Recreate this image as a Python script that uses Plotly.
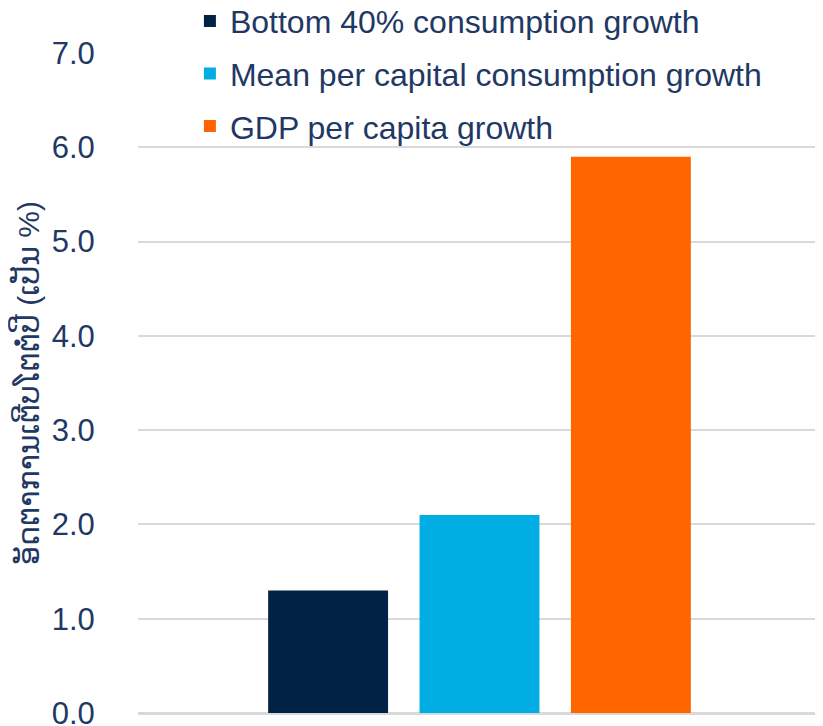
import plotly.graph_objects as go

categories = [""]
series_names = ["Bottom 40% consumption growth",
                "Mean per capital consumption growth",
                "GDP per capita growth"]
series_values = [[1.3], [2.1], [5.9]]
series_colors = ["#002245", "#00AEE4", "#FF6600"]
y_ticks = [0, 1, 2, 3, 4, 5, 6, 7]
y_tick_labels = ["0.0", "1.0", "2.0", "3.0", "4.0", "5.0", "6.0", "7.0"]
y_title = "ອັດຕາການເຕີບໂຕຕໍ່ປີ (ເປັນ %)"

text_color = "#1F3864"
font_family = "Arial, 'Liberation Sans', 'DejaVu Sans', sans-serif"

fig = go.Figure()
for i, (name, vals, col) in enumerate(zip(series_names, series_values, series_colors)):
    fig.add_trace(go.Bar(x=categories, y=vals, name=name, marker_color=col,
                         marker_line_width=0, legendgroup=f"g{i}"))

fig.update_layout(
    width=823, height=726,
    margin=dict(l=130, r=10, t=45, b=21, autoexpand=False),
    paper_bgcolor="white", plot_bgcolor="white",
    font=dict(family=font_family, color=text_color, size=31),
    barmode="group", bargap=0.335, bargroupgap=0.208,
    showlegend=True,
    legend=dict(x=0.076, xanchor="left", y=1.09, yanchor="top",
                bgcolor="rgba(0,0,0,0)", font=dict(size=32, color=text_color),
                tracegroupgap=8, traceorder="grouped"),
    xaxis=dict(showticklabels=False, showgrid=False, zeroline=False, showline=False),
    yaxis=dict(range=[0, 7], tickvals=y_ticks, ticktext=y_tick_labels,
               showgrid=True, gridcolor="#D9D9D9", gridwidth=2,
               zeroline=True, zerolinecolor="#D9D9D9", zerolinewidth=3,
               showline=False, ticks="outside", ticklen=8, tickcolor="rgba(0,0,0,0)",
               ticklabelstandoff=28,
               tickfont=dict(size=31, color=text_color), automargin=True,
               title=dict(text=y_title, font=dict(size=30, color=text_color), standoff=6)),
)

fig.write_html("out.html")
